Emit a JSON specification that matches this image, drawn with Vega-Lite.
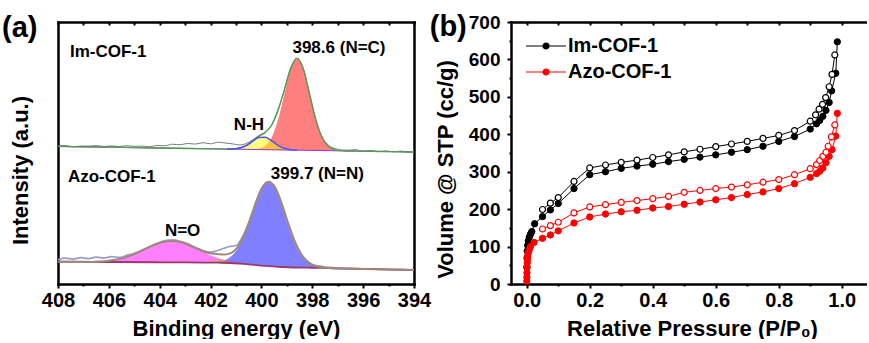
{
  "$schema": "https://vega.github.io/schema/vega-lite/v6.json",
  "padding": {"left": 2, "top": 12, "right": 0, "bottom": 0},
  "bounds": "flush",
  "spacing": 97,
  "resolve": {"scale": {"fill": "independent", "stroke": "independent", "strokeWidth": "independent"}},
  "config": {
    "font": "Liberation Sans",
    "view": {"stroke": null},
    "axis": {"grid": false, "labelFont": "Liberation Sans", "labelFontWeight": "bold", "labelColor": "#000", "titleFont": "Liberation Sans", "titleFontWeight": "bold", "titleColor": "#000", "titleFontSize": 22, "tickColor": "#000", "tickWidth": 2, "domainColor": "#000", "domainWidth": 2.5, "domainCap": "square", "labelFlush": false, "labelOverlap": false},
    "legend": {"labelFont": "Liberation Sans", "labelFontWeight": "bold", "labelColor": "#000"}
  },
  "datasets": {
    "peaks": [
      {"c":"Im N=C","e":396.6,"hi":133.0,"lo":133.0},{"c":"Im N=C","e":396.85,"hi":133.3,"lo":133.1},{"c":"Im N=C","e":397.1,"hi":134.2,"lo":133.2},{"c":"Im N=C","e":397.35,"hi":137.3,"lo":133.3},{"c":"Im N=C","e":397.6,"hi":145.8,"lo":133.4},{"c":"Im N=C","e":397.85,"hi":163.4,"lo":133.5},{"c":"Im N=C","e":398.1,"hi":189.4,"lo":133.6},{"c":"Im N=C","e":398.35,"hi":214.9,"lo":133.7},{"c":"Im N=C","e":398.6,"hi":225.8,"lo":133.8},{"c":"Im N=C","e":398.85,"hi":215.1,"lo":133.9},{"c":"Im N=C","e":399.1,"hi":189.8,"lo":134.0},{"c":"Im N=C","e":399.35,"hi":164.0,"lo":134.1},{"c":"Im N=C","e":399.6,"hi":146.6,"lo":134.2},{"c":"Im N=C","e":399.85,"hi":138.3,"lo":134.3},{"c":"Im N=C","e":400.1,"hi":135.4,"lo":134.4},{"c":"Im N=C","e":400.35,"hi":134.7,"lo":134.5},{"c":"Im N=C","e":400.6,"hi":134.6,"lo":134.6},
      {"c":"Im N-H","e":398.6,"hi":133.9,"lo":133.8},{"c":"Im N-H","e":398.85,"hi":134.3,"lo":133.9},{"c":"Im N-H","e":399.1,"hi":135.7,"lo":134.0},{"c":"Im N-H","e":399.35,"hi":138.7,"lo":134.1},{"c":"Im N-H","e":399.6,"hi":143.2,"lo":134.2},{"c":"Im N-H","e":399.85,"hi":146.7,"lo":134.3},{"c":"Im N-H","e":400.1,"hi":146.4,"lo":134.4},{"c":"Im N-H","e":400.35,"hi":142.6,"lo":134.5},{"c":"Im N-H","e":400.6,"hi":138.5,"lo":134.6},{"c":"Im N-H","e":400.85,"hi":136.0,"lo":134.7},{"c":"Im N-H","e":401.1,"hi":135.1,"lo":134.8},{"c":"Im N-H","e":401.35,"hi":134.9,"lo":134.9},
      {"c":"Azo N=N","e":397.2,"hi":15.7,"lo":15.7},{"c":"Azo N=N","e":397.45,"hi":16.2,"lo":15.9},{"c":"Azo N=N","e":397.7,"hi":17.0,"lo":16.1},{"c":"Azo N=N","e":397.95,"hi":18.7,"lo":16.2},{"c":"Azo N=N","e":398.2,"hi":22.7,"lo":16.3},{"c":"Azo N=N","e":398.45,"hi":30.5,"lo":16.4},{"c":"Azo N=N","e":398.7,"hi":43.3,"lo":16.5},{"c":"Azo N=N","e":398.95,"hi":61.0,"lo":16.7},{"c":"Azo N=N","e":399.2,"hi":80.4,"lo":17.0},{"c":"Azo N=N","e":399.45,"hi":96.0,"lo":17.3},{"c":"Azo N=N","e":399.7,"hi":102.3,"lo":17.8},{"c":"Azo N=N","e":399.95,"hi":97.0,"lo":18.3},{"c":"Azo N=N","e":400.2,"hi":82.3,"lo":18.9},{"c":"Azo N=N","e":400.45,"hi":63.8,"lo":19.5},{"c":"Azo N=N","e":400.7,"hi":46.9,"lo":20.1},{"c":"Azo N=N","e":400.95,"hi":34.7,"lo":20.6},{"c":"Azo N=N","e":401.2,"hi":27.4,"lo":21.0},{"c":"Azo N=N","e":401.45,"hi":23.7,"lo":21.2},{"c":"Azo N=N","e":401.7,"hi":22.2,"lo":21.3},{"c":"Azo N=N","e":401.95,"hi":21.7,"lo":21.3},{"c":"Azo N=N","e":402.2,"hi":21.4,"lo":21.4},
      {"c":"Azo N=O","e":400.95,"hi":21.6,"lo":20.6},{"c":"Azo N=O","e":401.2,"hi":22.8,"lo":21.0},{"c":"Azo N=O","e":401.45,"hi":24.2,"lo":21.2},{"c":"Azo N=O","e":401.7,"hi":26.0,"lo":21.3},{"c":"Azo N=O","e":401.95,"hi":28.2,"lo":21.3},{"c":"Azo N=O","e":402.2,"hi":31.0,"lo":21.4},{"c":"Azo N=O","e":402.45,"hi":34.1,"lo":21.4},{"c":"Azo N=O","e":402.7,"hi":37.1,"lo":21.4},{"c":"Azo N=O","e":402.95,"hi":40.0,"lo":21.5},{"c":"Azo N=O","e":403.2,"hi":42.0,"lo":21.5},{"c":"Azo N=O","e":403.45,"hi":43.0,"lo":21.6},{"c":"Azo N=O","e":403.7,"hi":42.8,"lo":21.6},{"c":"Azo N=O","e":403.95,"hi":41.5,"lo":21.7},{"c":"Azo N=O","e":404.2,"hi":39.2,"lo":21.7},{"c":"Azo N=O","e":404.45,"hi":36.3,"lo":21.7},{"c":"Azo N=O","e":404.7,"hi":33.4,"lo":21.8},{"c":"Azo N=O","e":404.95,"hi":30.4,"lo":21.8},{"c":"Azo N=O","e":405.2,"hi":27.9,"lo":21.8},{"c":"Azo N=O","e":405.45,"hi":25.9,"lo":21.9},{"c":"Azo N=O","e":405.7,"hi":24.4,"lo":21.9},{"c":"Azo N=O","e":405.95,"hi":23.5,"lo":22.0},{"c":"Azo N=O","e":406.2,"hi":22.8,"lo":22.0},{"c":"Azo N=O","e":406.45,"hi":22.5,"lo":22.1},{"c":"Azo N=O","e":406.7,"hi":22.1,"lo":22.1},
      {"c":"Azo sm","e":400.7,"hi":20.1,"lo":20.1},{"c":"Azo sm","e":400.95,"hi":21.1,"lo":20.6},{"c":"Azo sm","e":401.2,"hi":22.6,"lo":21.0},{"c":"Azo sm","e":401.45,"hi":23.9,"lo":21.2},{"c":"Azo sm","e":401.7,"hi":24.2,"lo":21.3},{"c":"Azo sm","e":401.95,"hi":23.1,"lo":21.3},{"c":"Azo sm","e":402.2,"hi":22.1,"lo":21.4},{"c":"Azo sm","e":402.45,"hi":21.6,"lo":21.4},{"c":"Azo sm","e":402.7,"hi":21.4,"lo":21.4}
    ],
    "xps": [
      {"c":"Im raw","e":408.0,"v":137.8},{"c":"Im raw","e":407.7,"v":138.5},{"c":"Im raw","e":407.4,"v":137.2},{"c":"Im raw","e":407.1,"v":138.0},{"c":"Im raw","e":406.8,"v":137.9},{"c":"Im raw","e":406.5,"v":138.4},{"c":"Im raw","e":406.2,"v":137.6},{"c":"Im raw","e":405.9,"v":138.1},{"c":"Im raw","e":405.6,"v":137.5},{"c":"Im raw","e":405.3,"v":138.3},{"c":"Im raw","e":405.0,"v":137.7},{"c":"Im raw","e":404.7,"v":137.9},{"c":"Im raw","e":404.4,"v":137.3},{"c":"Im raw","e":404.1,"v":138.6},{"c":"Im raw","e":403.8,"v":138.2},{"c":"Im raw","e":403.5,"v":139.8},{"c":"Im raw","e":403.2,"v":139.2},{"c":"Im raw","e":402.9,"v":140.6},{"c":"Im raw","e":402.6,"v":139.9},{"c":"Im raw","e":402.3,"v":141.3},{"c":"Im raw","e":402.0,"v":140.2},{"c":"Im raw","e":401.7,"v":141.8},{"c":"Im raw","e":401.4,"v":140.9},{"c":"Im raw","e":401.1,"v":140.0},{"c":"Im raw","e":400.85,"v":139.0},{"c":"Im raw","e":400.6,"v":140.5},{"c":"Im raw","e":400.35,"v":144.0},{"c":"Im raw","e":400.1,"v":148.5},{"c":"Im raw","e":399.85,"v":152.0},{"c":"Im raw","e":399.6,"v":158.5},{"c":"Im raw","e":399.35,"v":173.0},{"c":"Im raw","e":399.1,"v":194.0},{"c":"Im raw","e":398.85,"v":215.0},{"c":"Im raw","e":398.6,"v":225.5},{"c":"Im raw","e":398.35,"v":215.5},{"c":"Im raw","e":398.1,"v":189.0},{"c":"Im raw","e":397.85,"v":163.0},{"c":"Im raw","e":397.6,"v":146.5},{"c":"Im raw","e":397.35,"v":138.5},{"c":"Im raw","e":397.1,"v":135.5},{"c":"Im raw","e":396.85,"v":134.0},{"c":"Im raw","e":396.6,"v":133.8},{"c":"Im raw","e":396.3,"v":134.4},{"c":"Im raw","e":396.0,"v":132.6},{"c":"Im raw","e":395.7,"v":133.6},{"c":"Im raw","e":395.4,"v":132.4},{"c":"Im raw","e":395.1,"v":133.1},{"c":"Im raw","e":394.8,"v":132.2},{"c":"Im raw","e":394.5,"v":132.9},{"c":"Im raw","e":394.2,"v":131.8},{"c":"Im raw","e":394.0,"v":132.3},
      {"c":"Im base","e":394.0,"v":132.0},{"c":"Im base","e":408.0,"v":137.6},
      {"c":"Im fit","e":394.0,"v":132.0},{"c":"Im fit","e":395.0,"v":132.4},{"c":"Im fit","e":396.0,"v":132.8},{"c":"Im fit","e":396.6,"v":133.0},{"c":"Im fit","e":396.85,"v":133.3},{"c":"Im fit","e":397.1,"v":134.2},{"c":"Im fit","e":397.35,"v":137.3},{"c":"Im fit","e":397.6,"v":145.8},{"c":"Im fit","e":397.85,"v":163.4},{"c":"Im fit","e":398.1,"v":189.4},{"c":"Im fit","e":398.35,"v":214.9},{"c":"Im fit","e":398.6,"v":225.9},{"c":"Im fit","e":398.85,"v":216.0},{"c":"Im fit","e":399.1,"v":194.0},{"c":"Im fit","e":399.35,"v":174.0},{"c":"Im fit","e":399.6,"v":159.0},{"c":"Im fit","e":399.85,"v":151.5},{"c":"Im fit","e":400.1,"v":147.6},{"c":"Im fit","e":400.35,"v":142.8},{"c":"Im fit","e":400.6,"v":138.5},{"c":"Im fit","e":400.85,"v":136.0},{"c":"Im fit","e":401.1,"v":135.1},{"c":"Im fit","e":401.35,"v":134.9},{"c":"Im fit","e":402.0,"v":135.2},{"c":"Im fit","e":404.0,"v":136.0},{"c":"Im fit","e":406.0,"v":136.8},{"c":"Im fit","e":408.0,"v":137.6},
      {"c":"Im NH","e":398.6,"v":133.9},{"c":"Im NH","e":398.85,"v":134.3},{"c":"Im NH","e":399.1,"v":135.7},{"c":"Im NH","e":399.35,"v":138.7},{"c":"Im NH","e":399.6,"v":143.2},{"c":"Im NH","e":399.85,"v":146.7},{"c":"Im NH","e":400.1,"v":146.4},{"c":"Im NH","e":400.35,"v":142.6},{"c":"Im NH","e":400.6,"v":138.5},{"c":"Im NH","e":400.85,"v":136.0},{"c":"Im NH","e":401.1,"v":135.1},{"c":"Im NH","e":401.35,"v":134.9},
      {"c":"Azo raw","e":408.0,"v":24.5},{"c":"Azo raw","e":407.7,"v":25.8},{"c":"Azo raw","e":407.4,"v":24.9},{"c":"Azo raw","e":407.1,"v":26.3},{"c":"Azo raw","e":406.8,"v":25.4},{"c":"Azo raw","e":406.5,"v":26.8},{"c":"Azo raw","e":406.2,"v":25.9},{"c":"Azo raw","e":405.9,"v":27.4},{"c":"Azo raw","e":405.6,"v":26.6},{"c":"Azo raw","e":405.3,"v":28.6},{"c":"Azo raw","e":405.0,"v":30.8},{"c":"Azo raw","e":404.7,"v":34.0},{"c":"Azo raw","e":404.4,"v":37.5},{"c":"Azo raw","e":404.1,"v":40.8},{"c":"Azo raw","e":403.8,"v":43.5},{"c":"Azo raw","e":403.5,"v":44.2},{"c":"Azo raw","e":403.2,"v":42.8},{"c":"Azo raw","e":402.9,"v":40.2},{"c":"Azo raw","e":402.6,"v":36.8},{"c":"Azo raw","e":402.3,"v":33.5},{"c":"Azo raw","e":402.0,"v":31.8},{"c":"Azo raw","e":401.75,"v":33.2},{"c":"Azo raw","e":401.5,"v":35.5},{"c":"Azo raw","e":401.25,"v":37.5},{"c":"Azo raw","e":401.0,"v":38.5},{"c":"Azo raw","e":400.75,"v":47.0},{"c":"Azo raw","e":400.5,"v":61.5},{"c":"Azo raw","e":400.25,"v":79.5},{"c":"Azo raw","e":400.0,"v":95.5},{"c":"Azo raw","e":399.75,"v":102.0},{"c":"Azo raw","e":399.5,"v":98.0},{"c":"Azo raw","e":399.25,"v":82.5},{"c":"Azo raw","e":399.0,"v":63.0},{"c":"Azo raw","e":398.75,"v":45.0},{"c":"Azo raw","e":398.5,"v":31.5},{"c":"Azo raw","e":398.25,"v":23.5},{"c":"Azo raw","e":398.0,"v":19.5},{"c":"Azo raw","e":397.75,"v":18.2},{"c":"Azo raw","e":397.5,"v":17.0},{"c":"Azo raw","e":397.2,"v":16.4},{"c":"Azo raw","e":396.9,"v":15.6},{"c":"Azo raw","e":396.6,"v":15.3},{"c":"Azo raw","e":396.3,"v":15.4},{"c":"Azo raw","e":396.0,"v":14.9},{"c":"Azo raw","e":395.5,"v":14.8},{"c":"Azo raw","e":395.0,"v":14.5},{"c":"Azo raw","e":394.5,"v":14.3},{"c":"Azo raw","e":394.0,"v":14.0},
      {"c":"Azo base","e":394.0,"v":14.0},{"c":"Azo base","e":396.0,"v":15.1},{"c":"Azo base","e":397.2,"v":15.7},{"c":"Azo base","e":397.7,"v":16.1},{"c":"Azo base","e":398.2,"v":16.3},{"c":"Azo base","e":398.7,"v":16.5},{"c":"Azo base","e":399.2,"v":17.0},{"c":"Azo base","e":399.7,"v":17.8},{"c":"Azo base","e":400.2,"v":18.9},{"c":"Azo base","e":400.7,"v":20.1},{"c":"Azo base","e":401.2,"v":21.0},{"c":"Azo base","e":401.7,"v":21.3},{"c":"Azo base","e":402.2,"v":21.4},{"c":"Azo base","e":404.0,"v":21.7},{"c":"Azo base","e":406.0,"v":22.0},{"c":"Azo base","e":408.0,"v":22.3},
      {"c":"Azo fit","e":394.0,"v":14.0},{"c":"Azo fit","e":395.0,"v":14.6},{"c":"Azo fit","e":396.0,"v":15.1},{"c":"Azo fit","e":396.7,"v":15.4},{"c":"Azo fit","e":396.95,"v":15.5},{"c":"Azo fit","e":397.2,"v":15.7},{"c":"Azo fit","e":397.45,"v":16.2},{"c":"Azo fit","e":397.7,"v":17.0},{"c":"Azo fit","e":397.95,"v":18.7},{"c":"Azo fit","e":398.2,"v":22.7},{"c":"Azo fit","e":398.45,"v":30.5},{"c":"Azo fit","e":398.7,"v":43.3},{"c":"Azo fit","e":398.95,"v":61.0},{"c":"Azo fit","e":399.2,"v":80.4},{"c":"Azo fit","e":399.45,"v":96.0},{"c":"Azo fit","e":399.7,"v":102.3},{"c":"Azo fit","e":399.95,"v":97.0},{"c":"Azo fit","e":400.2,"v":82.3},{"c":"Azo fit","e":400.45,"v":64.1},{"c":"Azo fit","e":400.7,"v":47.6},{"c":"Azo fit","e":400.95,"v":36.3},{"c":"Azo fit","e":401.2,"v":30.8},{"c":"Azo fit","e":401.45,"v":29.4},{"c":"Azo fit","e":401.7,"v":29.8},{"c":"Azo fit","e":401.95,"v":30.4},{"c":"Azo fit","e":402.2,"v":31.7},{"c":"Azo fit","e":402.45,"v":34.3},{"c":"Azo fit","e":402.7,"v":37.1},{"c":"Azo fit","e":402.95,"v":40.0},{"c":"Azo fit","e":403.2,"v":42.0},{"c":"Azo fit","e":403.45,"v":43.0},{"c":"Azo fit","e":403.7,"v":42.8},{"c":"Azo fit","e":403.95,"v":41.5},{"c":"Azo fit","e":404.2,"v":39.2},{"c":"Azo fit","e":404.45,"v":36.3},{"c":"Azo fit","e":404.7,"v":33.4},{"c":"Azo fit","e":404.95,"v":30.4},{"c":"Azo fit","e":405.2,"v":27.9},{"c":"Azo fit","e":405.45,"v":25.9},{"c":"Azo fit","e":405.7,"v":24.4},{"c":"Azo fit","e":405.95,"v":23.5},{"c":"Azo fit","e":406.2,"v":22.8},{"c":"Azo fit","e":406.45,"v":22.5},{"c":"Azo fit","e":406.7,"v":22.1},{"c":"Azo fit","e":407.0,"v":22.2},{"c":"Azo fit","e":408.0,"v":22.3}
    ],
    "iso": [
      {"s":"Im-COF-1","b":"ads","p":0.0003,"v":45},{"s":"Im-COF-1","b":"ads","p":0.0008,"v":70},{"s":"Im-COF-1","b":"ads","p":0.0015,"v":88},{"s":"Im-COF-1","b":"ads","p":0.003,"v":103},{"s":"Im-COF-1","b":"ads","p":0.005,"v":115},{"s":"Im-COF-1","b":"ads","p":0.008,"v":125},{"s":"Im-COF-1","b":"ads","p":0.012,"v":133},{"s":"Im-COF-1","b":"ads","p":0.016,"v":140},{"s":"Im-COF-1","b":"ads","p":0.025,"v":161},{"s":"Im-COF-1","b":"ads","p":0.05,"v":180},{"s":"Im-COF-1","b":"ads","p":0.075,"v":198},{"s":"Im-COF-1","b":"ads","p":0.1,"v":215},{"s":"Im-COF-1","b":"ads","p":0.15,"v":255},{"s":"Im-COF-1","b":"ads","p":0.2,"v":292},{"s":"Im-COF-1","b":"ads","p":0.25,"v":300},{"s":"Im-COF-1","b":"ads","p":0.3,"v":309},{"s":"Im-COF-1","b":"ads","p":0.35,"v":315},{"s":"Im-COF-1","b":"ads","p":0.4,"v":320},{"s":"Im-COF-1","b":"ads","p":0.45,"v":327},{"s":"Im-COF-1","b":"ads","p":0.5,"v":333},{"s":"Im-COF-1","b":"ads","p":0.55,"v":339},{"s":"Im-COF-1","b":"ads","p":0.6,"v":345},{"s":"Im-COF-1","b":"ads","p":0.65,"v":352},{"s":"Im-COF-1","b":"ads","p":0.7,"v":359},{"s":"Im-COF-1","b":"ads","p":0.75,"v":368},{"s":"Im-COF-1","b":"ads","p":0.8,"v":381},{"s":"Im-COF-1","b":"ads","p":0.85,"v":394},{"s":"Im-COF-1","b":"ads","p":0.9,"v":414},{"s":"Im-COF-1","b":"ads","p":0.92,"v":428},{"s":"Im-COF-1","b":"ads","p":0.93,"v":437},{"s":"Im-COF-1","b":"ads","p":0.94,"v":448},{"s":"Im-COF-1","b":"ads","p":0.95,"v":464},{"s":"Im-COF-1","b":"ads","p":0.96,"v":485},{"s":"Im-COF-1","b":"ads","p":0.968,"v":516},{"s":"Im-COF-1","b":"ads","p":0.981,"v":563},{"s":"Im-COF-1","b":"ads","p":0.986,"v":647},
      {"s":"Im-COF-1","b":"des","p":0.05,"v":199},{"s":"Im-COF-1","b":"des","p":0.075,"v":216},{"s":"Im-COF-1","b":"des","p":0.1,"v":231},{"s":"Im-COF-1","b":"des","p":0.15,"v":274},{"s":"Im-COF-1","b":"des","p":0.2,"v":310},{"s":"Im-COF-1","b":"des","p":0.25,"v":318},{"s":"Im-COF-1","b":"des","p":0.3,"v":325},{"s":"Im-COF-1","b":"des","p":0.35,"v":331},{"s":"Im-COF-1","b":"des","p":0.4,"v":338},{"s":"Im-COF-1","b":"des","p":0.45,"v":345},{"s":"Im-COF-1","b":"des","p":0.5,"v":353},{"s":"Im-COF-1","b":"des","p":0.55,"v":360},{"s":"Im-COF-1","b":"des","p":0.6,"v":367},{"s":"Im-COF-1","b":"des","p":0.65,"v":374},{"s":"Im-COF-1","b":"des","p":0.7,"v":381},{"s":"Im-COF-1","b":"des","p":0.75,"v":389},{"s":"Im-COF-1","b":"des","p":0.8,"v":397},{"s":"Im-COF-1","b":"des","p":0.85,"v":410},{"s":"Im-COF-1","b":"des","p":0.9,"v":435},{"s":"Im-COF-1","b":"des","p":0.917,"v":452},{"s":"Im-COF-1","b":"des","p":0.928,"v":467},{"s":"Im-COF-1","b":"des","p":0.939,"v":480},{"s":"Im-COF-1","b":"des","p":0.949,"v":498},{"s":"Im-COF-1","b":"des","p":0.96,"v":527},{"s":"Im-COF-1","b":"des","p":0.969,"v":560},{"s":"Im-COF-1","b":"des","p":0.978,"v":612},
      {"s":"Azo-COF-1","b":"ads","p":0.0002,"v":8},{"s":"Azo-COF-1","b":"ads","p":0.0004,"v":18},{"s":"Azo-COF-1","b":"ads","p":0.0006,"v":30},{"s":"Azo-COF-1","b":"ads","p":0.001,"v":45},{"s":"Azo-COF-1","b":"ads","p":0.0015,"v":57},{"s":"Azo-COF-1","b":"ads","p":0.002,"v":66},{"s":"Azo-COF-1","b":"ads","p":0.003,"v":75},{"s":"Azo-COF-1","b":"ads","p":0.005,"v":84},{"s":"Azo-COF-1","b":"ads","p":0.008,"v":92},{"s":"Azo-COF-1","b":"ads","p":0.012,"v":100},{"s":"Azo-COF-1","b":"ads","p":0.023,"v":111},{"s":"Azo-COF-1","b":"ads","p":0.05,"v":122},{"s":"Azo-COF-1","b":"ads","p":0.075,"v":131},{"s":"Azo-COF-1","b":"ads","p":0.1,"v":142},{"s":"Azo-COF-1","b":"ads","p":0.15,"v":163},{"s":"Azo-COF-1","b":"ads","p":0.2,"v":179},{"s":"Azo-COF-1","b":"ads","p":0.25,"v":187},{"s":"Azo-COF-1","b":"ads","p":0.3,"v":193},{"s":"Azo-COF-1","b":"ads","p":0.35,"v":197},{"s":"Azo-COF-1","b":"ads","p":0.4,"v":203},{"s":"Azo-COF-1","b":"ads","p":0.45,"v":207},{"s":"Azo-COF-1","b":"ads","p":0.5,"v":213},{"s":"Azo-COF-1","b":"ads","p":0.55,"v":219},{"s":"Azo-COF-1","b":"ads","p":0.6,"v":225},{"s":"Azo-COF-1","b":"ads","p":0.65,"v":231},{"s":"Azo-COF-1","b":"ads","p":0.7,"v":239},{"s":"Azo-COF-1","b":"ads","p":0.75,"v":246},{"s":"Azo-COF-1","b":"ads","p":0.8,"v":255},{"s":"Azo-COF-1","b":"ads","p":0.85,"v":268},{"s":"Azo-COF-1","b":"ads","p":0.9,"v":285},{"s":"Azo-COF-1","b":"ads","p":0.92,"v":295},{"s":"Azo-COF-1","b":"ads","p":0.93,"v":301},{"s":"Azo-COF-1","b":"ads","p":0.94,"v":310},{"s":"Azo-COF-1","b":"ads","p":0.95,"v":324},{"s":"Azo-COF-1","b":"ads","p":0.96,"v":341},{"s":"Azo-COF-1","b":"ads","p":0.969,"v":359},{"s":"Azo-COF-1","b":"ads","p":0.981,"v":395},{"s":"Azo-COF-1","b":"ads","p":0.986,"v":456},
      {"s":"Azo-COF-1","b":"des","p":0.05,"v":147},{"s":"Azo-COF-1","b":"des","p":0.075,"v":156},{"s":"Azo-COF-1","b":"des","p":0.1,"v":165},{"s":"Azo-COF-1","b":"des","p":0.15,"v":190},{"s":"Azo-COF-1","b":"des","p":0.2,"v":206},{"s":"Azo-COF-1","b":"des","p":0.25,"v":212},{"s":"Azo-COF-1","b":"des","p":0.3,"v":218},{"s":"Azo-COF-1","b":"des","p":0.35,"v":223},{"s":"Azo-COF-1","b":"des","p":0.4,"v":228},{"s":"Azo-COF-1","b":"des","p":0.45,"v":234},{"s":"Azo-COF-1","b":"des","p":0.5,"v":245},{"s":"Azo-COF-1","b":"des","p":0.55,"v":250},{"s":"Azo-COF-1","b":"des","p":0.6,"v":255},{"s":"Azo-COF-1","b":"des","p":0.65,"v":259},{"s":"Azo-COF-1","b":"des","p":0.7,"v":265},{"s":"Azo-COF-1","b":"des","p":0.75,"v":272},{"s":"Azo-COF-1","b":"des","p":0.8,"v":279},{"s":"Azo-COF-1","b":"des","p":0.85,"v":292},{"s":"Azo-COF-1","b":"des","p":0.9,"v":308},{"s":"Azo-COF-1","b":"des","p":0.92,"v":319},{"s":"Azo-COF-1","b":"des","p":0.93,"v":330},{"s":"Azo-COF-1","b":"des","p":0.94,"v":341},{"s":"Azo-COF-1","b":"des","p":0.95,"v":352},{"s":"Azo-COF-1","b":"des","p":0.957,"v":368},{"s":"Azo-COF-1","b":"des","p":0.967,"v":393},{"s":"Azo-COF-1","b":"des","p":0.978,"v":425}
    ]
  },
  "hconcat": [
    {
      "width": 356,
      "height": 262,
      "resolve": {"axis": {"x": "independent", "y": "independent"}},
      "layer": [
        {
          "data": {"name": "peaks"},
          "transform": [{"filter": "datum.c == 'Im N=C' || datum.c == 'Azo N=N' || datum.c == 'Azo N=O'"}],
          "mark": {"type": "area", "interpolate": "monotone", "fillOpacity": 0.5},
          "encoding": {
            "x": {"field": "e", "type": "quantitative", "scale": {"domain": [394, 408], "reverse": true, "nice": false, "zero": false},
                  "axis": {"orient": "bottom", "values": [408, 406, 404, 402, 400, 398, 396, 394], "format": "d", "tickSize": 4, "labelFontSize": 20, "labelPadding": 2, "title": "Binding energy (eV)", "titlePadding": 8, "domain": true}},
            "y": {"field": "hi", "type": "quantitative", "scale": {"domain": [0, 262], "nice": false, "zero": false},
                  "axis": {"orient": "left", "ticks": false, "labels": false, "domain": true, "title": "Intensity (a.u.)", "titlePadding": 26, "titleY": 148}},
            "y2": {"field": "lo"},
            "fill": {"field": "c", "type": "nominal", "scale": {"domain": ["Im N=C", "Im N-H", "Azo N=N", "Azo N=O", "Azo sm"], "range": ["#ff0000", "#ffff00", "#0000ff", "#ff00ff", "#b8cc00"]}, "legend": null}
          }
        },
        {
          "data": {"name": "peaks"},
          "transform": [{"filter": "datum.c == 'Im N-H' || datum.c == 'Azo sm'"}],
          "mark": {"type": "area", "interpolate": "monotone", "fillOpacity": 0.5},
          "encoding": {
            "x": {"field": "e", "type": "quantitative",
                  "axis": {"orient": "top", "values": [394, 395, 396, 397, 398, 399, 400, 401, 402, 403, 404, 405, 406, 407, 408], "tickSize": -3, "labels": false, "domain": true, "title": null}},
            "y": {"field": "hi", "type": "quantitative",
                  "axis": {"orient": "right", "ticks": false, "labels": false, "domain": true, "title": null}},
            "y2": {"field": "lo"},
            "fill": {"field": "c", "type": "nominal", "legend": null}
          }
        },
        {
          "data": {"name": "xps"},
          "mark": {"type": "line", "interpolate": "monotone"},
          "encoding": {
            "x": {"field": "e", "type": "quantitative",
                  "axis": {"orient": "bottom", "values": [407, 405, 403, 401, 399, 397, 395], "tickSize": 2, "labels": false, "domain": false, "title": null}},
            "y": {"field": "v", "type": "quantitative", "axis": null},
            "stroke": {"field": "c", "type": "nominal", "scale": {"domain": ["Im raw", "Im base", "Im fit", "Im NH", "Azo raw", "Azo base", "Azo fit"], "range": ["#7a7a7a", "#9a32cd", "#4f9f4f", "#5050ff", "#9a9ad0", "#9a3a6a", "#a08878"]}, "legend": null},
            "strokeWidth": {"field": "c", "type": "nominal", "scale": {"domain": ["Im raw", "Im base", "Im fit", "Im NH", "Azo raw", "Azo base", "Azo fit"], "range": [1, 2, 1.5, 1.5, 1, 2, 1.5]}, "legend": null}
          }
        },
        {
          "data": {"values": [{"t": "Im-COF-1", "e": 407.53, "v": 226.7}, {"t": "Azo-COF-1", "e": 407.61, "v": 102.3}]},
          "mark": {"type": "text", "align": "left", "baseline": "alphabetic", "fontSize": 17, "fontWeight": "bold", "font": "Liberation Sans", "color": "#000"},
          "encoding": {
            "x": {"field": "e", "type": "quantitative", "axis": null},
            "y": {"field": "v", "type": "quantitative", "axis": null},
            "text": {"field": "t"}
          }
        },
        {
          "data": {"values": [{"t": "398.6 (N=C)", "e": 396.95, "v": 230.7}, {"t": "N-H", "e": 400.49, "v": 154}, {"t": "399.7 (N=N)", "e": 397.8, "v": 104.7}, {"t": "N=O", "e": 403.1, "v": 48}]},
          "mark": {"type": "text", "align": "center", "baseline": "alphabetic", "fontSize": 17, "fontWeight": "bold", "font": "Liberation Sans", "color": "#000"},
          "encoding": {
            "x": {"field": "e", "type": "quantitative", "axis": null},
            "y": {"field": "v", "type": "quantitative", "axis": null},
            "text": {"field": "t"}
          }
        },
        {
          "data": {"values": [{}]},
          "mark": {"type": "text", "align": "left", "baseline": "alphabetic", "fontSize": 29, "fontWeight": "bold", "font": "Liberation Sans", "color": "#000"},
          "encoding": {
            "x": {"datum": 410.2, "type": "quantitative", "axis": null},
            "y": {"datum": 247.5, "type": "quantitative", "axis": null},
            "text": {"value": "(a)"}
          }
        }
      ]
    },
    {
      "width": 356,
      "height": 262,
      "resolve": {"axis": {"x": "independent", "y": "independent"}},
      "layer": [
        {
          "data": {"name": "iso"},
          "mark": {"type": "line", "strokeWidth": 1},
          "encoding": {
            "x": {"field": "p", "type": "quantitative", "scale": {"domain": [-0.05, 1.0802], "nice": false, "zero": false},
                  "axis": {"orient": "bottom", "values": [0, 0.2, 0.4, 0.6, 0.8, 1.0], "format": ".1f", "tickSize": 4, "labelFontSize": 20, "labelPadding": 2, "title": "Relative Pressure (P/P₀)", "titlePadding": 8, "titleX": 181, "domain": true}},
            "y": {"field": "v", "type": "quantitative", "scale": {"domain": [0, 700], "nice": false, "zero": false},
                  "axis": {"orient": "left", "values": [0, 100, 200, 300, 400, 500, 600, 700], "tickSize": 4, "labelFontSize": 19, "labelPadding": 7, "title": "Volume @ STP (cc/g)", "titlePadding": 11, "titleY": 147, "domain": true}},
            "stroke": {"field": "s", "type": "nominal", "scale": {"domain": ["Im-COF-1", "Azo-COF-1"], "range": ["#000000", "#ff0000"]}},
            "detail": {"field": "b"}
          }
        },
        {
          "data": {"name": "iso"},
          "transform": [{"filter": "datum.b == 'ads'"}],
          "mark": {"type": "point", "filled": true, "size": 40, "strokeWidth": 1, "opacity": 1},
          "encoding": {
            "x": {"field": "p", "type": "quantitative",
                  "axis": {"orient": "top", "values": [0, 0.1, 0.2, 0.3, 0.4, 0.5, 0.6, 0.7, 0.8, 0.9, 1.0], "tickSize": -3, "labels": false, "domain": true, "title": null}},
            "y": {"field": "v", "type": "quantitative",
                  "axis": {"orient": "left", "values": [50, 150, 250, 350, 450, 550, 650], "tickSize": 2, "labels": false, "domain": false, "title": null}},
            "fill": {"field": "s", "type": "nominal", "scale": {"domain": ["Im-COF-1", "Azo-COF-1"], "range": ["#000000", "#ff0000"]},
                     "legend": {"orient": "top-left", "offset": 14, "direction": "vertical", "title": null, "padding": 0, "symbolType": "M-1.8,0L6.2,0M1.6,0A0.6,0.6,0,1,1,2.8,0A0.6,0.6,0,1,1,1.6,0Z", "symbolSize": 100, "symbolStrokeWidth": 1.2, "labelFontSize": 20, "labelOffset": 23, "rowPadding": 6}},
            "stroke": {"field": "s", "type": "nominal",
                     "legend": {"orient": "top-left", "offset": 14, "direction": "vertical", "title": null, "padding": 0, "symbolType": "M-1.8,0L6.2,0M1.6,0A0.6,0.6,0,1,1,2.8,0A0.6,0.6,0,1,1,1.6,0Z", "symbolSize": 100, "symbolStrokeWidth": 1.2, "labelFontSize": 20, "labelOffset": 23, "rowPadding": 6}}
          }
        },
        {
          "data": {"name": "iso"},
          "transform": [{"filter": "datum.b == 'des'"}],
          "mark": {"type": "point", "filled": false, "fill": "#ffffff", "size": 36, "strokeWidth": 1.2, "opacity": 1},
          "encoding": {
            "x": {"field": "p", "type": "quantitative",
                  "axis": {"orient": "bottom", "values": [0.1, 0.3, 0.5, 0.7, 0.9], "tickSize": 2, "labels": false, "domain": false, "title": null}},
            "y": {"field": "v", "type": "quantitative", "axis": null},
            "stroke": {"field": "s", "type": "nominal"}
          }
        },
        {
          "data": {"values": [{}]},
          "mark": {"type": "text", "align": "left", "baseline": "alphabetic", "fontSize": 29, "fontWeight": "bold", "font": "Liberation Sans", "color": "#000"},
          "encoding": {
            "x": {"datum": -0.308, "type": "quantitative", "axis": null},
            "y": {"datum": 663.7, "type": "quantitative", "axis": null},
            "text": {"value": "(b)"}
          }
        }
      ]
    }
  ]
}
